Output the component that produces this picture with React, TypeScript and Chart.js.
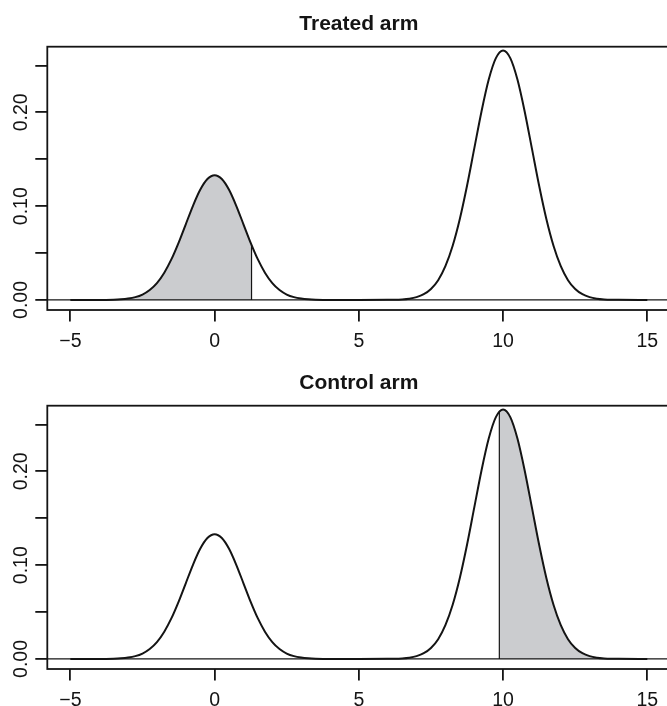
import React, { useEffect, useRef } from "react";
import { Chart, registerables } from "chart.js";

Chart.register(...registerables);

// Density curve (x, density)
const curveX = [
  -5, -4, -3.5, -3.25, -3, -2.75, -2.5, -2.25, -2, -1.75, -1.5, -1.25, -1, -0.75, -0.5, -0.25,
  0, 0.25, 0.5, 0.75, 1, 1.25, 1.5, 1.75, 2, 2.25, 2.5, 2.75, 3, 3.25, 3.5, 4, 5, 6,
  6.25, 6.5, 6.75, 7, 7.25, 7.5, 7.75, 8, 8.25, 8.5, 8.75, 9, 9.25, 9.5, 9.75,
  10, 10.25, 10.5, 10.75, 11, 11.25, 11.5, 11.75, 12, 12.25, 12.5, 12.75, 13, 13.25, 13.5, 13.75, 14, 15,
];
const curveY = [
  0, 0, 0.0003, 0.0007, 0.0015, 0.003, 0.0058, 0.0106, 0.018, 0.0288, 0.0432, 0.0609, 0.0807, 0.1004, 0.1174, 0.1289,
  0.133, 0.1289, 0.1174, 0.1004, 0.0807, 0.0609, 0.0432, 0.0288, 0.018, 0.0106, 0.0058, 0.003, 0.0015, 0.0007, 0.0003, 0, 0, 0.0001,
  0.0002, 0.0006, 0.0014, 0.003, 0.0061, 0.0117, 0.0211, 0.036, 0.0575, 0.0863, 0.1217, 0.1613, 0.2007, 0.2347, 0.2578,
  0.266, 0.2578, 0.2347, 0.2007, 0.1613, 0.1217, 0.0863, 0.0575, 0.036, 0.0211, 0.0117, 0.0061, 0.003, 0.0014, 0.0006, 0.0002, 0.0001, 0,
];

// Shaded tails
const treatedCutX = 1.28;
const treatedCutY = 0.0586;
const controlCutX = 9.87;
const controlCutY = 0.2637;

const panelTitles = ["Treated arm", "Control arm"];
const xTicks = [-5, 0, 5, 10, 15];
const yTicks = [0, 0.05, 0.1, 0.15, 0.2, 0.25];
const yLabelTicks = [0, 0.1, 0.2];
const xRange = [-5.8, 15.8];
const yRange = [-0.0107, 0.27];

const FONT = "'Liberation Sans', Arial, Helvetica, sans-serif";
const INK = "#141414";
const SHADE = "#cbcccf";

const CANVAS_W = 680;
const CANVAS_H = 353;

function pts(xs: number[], ys: number[]) {
  return xs.map((x, i) => ({ x, y: ys[i] }));
}

function shadeLeft(cut: number, cutY: number) {
  const p = pts(curveX, curveY).filter((d) => d.x <= cut);
  p.push({ x: cut, y: cutY });
  return p;
}
function shadeRight(cut: number, cutY: number) {
  const p = pts(curveX, curveY).filter((d) => d.x >= cut);
  p.unshift({ x: cut, y: cutY });
  return p;
}

const boxPlugin = {
  id: "rbox",
  afterDatasetsDraw(chart: any) {
    const { ctx, chartArea: a } = chart;
    ctx.save();
    ctx.strokeStyle = INK;
    ctx.lineWidth = 1.8;
    ctx.strokeRect(a.left, a.top, a.right - a.left, a.bottom - a.top);
    ctx.restore();
  },
};

const yLabelPlugin = {
  id: "ylabels",
  afterDraw(chart: any) {
    const { ctx } = chart;
    const ys = chart.scales.y;
    ctx.save();
    ctx.fillStyle = INK;
    ctx.font = `19.5px ${FONT}`;
    ctx.textAlign = "center";
    ctx.textBaseline = "alphabetic";
    yLabelTicks.forEach((v) => {
      const py = ys.getPixelForValue(v);
      ctx.save();
      ctx.translate(27.3, py);
      ctx.rotate(-Math.PI / 2);
      ctx.fillText(v.toFixed(2), 0, 0);
      ctx.restore();
    });
    ctx.restore();
  },
};

function makeConfig(title: string, shade: { x: number; y: number }[], cutX: number, cutY: number): any {
  return {
    type: "line",
    data: {
      datasets: [
        {
          data: pts(curveX, curveY),
          borderColor: INK,
          borderWidth: 2,
          pointRadius: 0,
          cubicInterpolationMode: "monotone",
          fill: false,
          order: 0,
        },
        {
          data: [
            { x: cutX, y: 0 },
            { x: cutX, y: cutY },
          ],
          borderColor: INK,
          borderWidth: 1.2,
          pointRadius: 0,
          fill: false,
          order: 1,
        },
        {
          data: [
            { x: xRange[0], y: 0 },
            { x: xRange[1], y: 0 },
          ],
          borderColor: INK,
          borderWidth: 1.2,
          pointRadius: 0,
          fill: false,
          order: 2,
        },
        {
          data: shade,
          borderWidth: 0,
          borderColor: "rgba(0,0,0,0)",
          backgroundColor: SHADE,
          pointRadius: 0,
          cubicInterpolationMode: "monotone",
          fill: "origin",
          order: 3,
        },
      ],
    },
    options: {
      animation: false,
      responsive: false,
      devicePixelRatio: 1,
      events: [],
      layout: { padding: { left: 0, right: CANVAS_W - 670.4, top: 0, bottom: 0 } },
      plugins: {
        legend: { display: false },
        tooltip: { enabled: false },
        title: {
          display: true,
          text: title,
          fullSize: false,
          color: INK,
          font: { family: FONT, size: 21, weight: "bold", lineHeight: 1.2 },
          padding: { top: 11.4, bottom: 10.1 },
        },
      },
      scales: {
        x: {
          type: "linear",
          min: xRange[0],
          max: xRange[1],
          afterBuildTicks: (s: any) => {
            s.ticks = xTicks.map((v) => ({ value: v }));
          },
          afterFit: (s: any) => {
            s.height = CANVAS_H - 310;
          },
          border: { display: false },
          grid: {
            drawOnChartArea: false,
            drawTicks: true,
            tickLength: 11.5,
            color: INK,
            lineWidth: 1.8,
          },
          ticks: {
            color: INK,
            font: { family: FONT, size: 19.5 },
            padding: 8,
            maxRotation: 0,
            autoSkip: false,
            callback: (v: any) => (Number(v) < 0 ? "\u2212" + Math.abs(Number(v)) : String(v)),
          },
        },
        y: {
          type: "linear",
          min: yRange[0],
          max: yRange[1],
          afterBuildTicks: (s: any) => {
            s.ticks = yTicks.map((v) => ({ value: v }));
          },
          afterFit: (s: any) => {
            s.width = 47.3;
          },
          border: { display: false },
          grid: {
            drawOnChartArea: false,
            drawTicks: true,
            tickLength: 12,
            color: INK,
            lineWidth: 1.8,
          },
          ticks: { display: false },
        },
      },
    },
    plugins: [boxPlugin, yLabelPlugin],
  };
}

export default function App() {
  const ref1 = useRef<HTMLCanvasElement>(null);
  const ref2 = useRef<HTMLCanvasElement>(null);

  useEffect(() => {
    const c1 = new Chart(
      ref1.current as HTMLCanvasElement,
      makeConfig(panelTitles[0], shadeLeft(treatedCutX, treatedCutY), treatedCutX, treatedCutY)
    );
    const c2 = new Chart(
      ref2.current as HTMLCanvasElement,
      makeConfig(panelTitles[1], shadeRight(controlCutX, controlCutY), controlCutX, controlCutY)
    );
    return () => {
      c1.destroy();
      c2.destroy();
    };
  }, []);

  return (
    <div
      style={{
        position: "fixed",
        left: 0,
        top: 0,
        width: 667,
        height: 706,
        overflow: "hidden",
        background: "#fff",
      }}
    >
      <canvas
        ref={ref1}
        width={CANVAS_W}
        height={CANVAS_H}
        style={{ position: "absolute", left: 0, top: 0, width: CANVAS_W, height: CANVAS_H }}
      />
      <canvas
        ref={ref2}
        width={CANVAS_W}
        height={CANVAS_H}
        style={{ position: "absolute", left: 0, top: 359, width: CANVAS_W, height: CANVAS_H }}
      />
    </div>
  );
}
